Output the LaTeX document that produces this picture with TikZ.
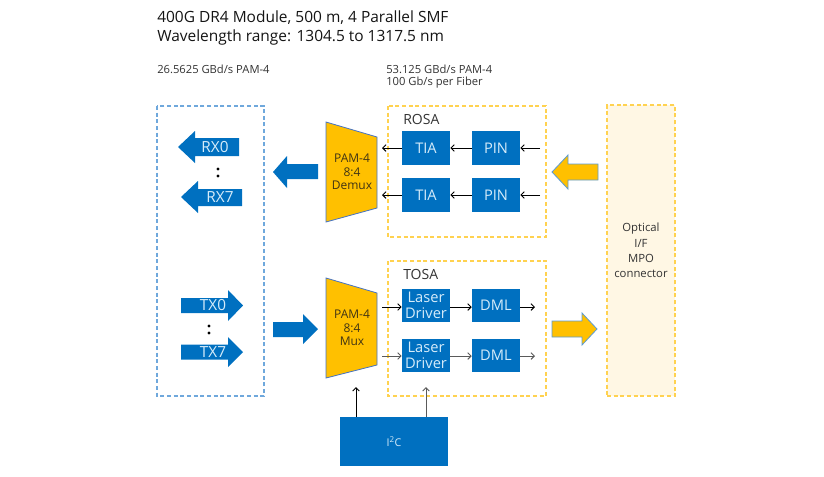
\documentclass[tikz,border=0pt]{standalone}
\usepackage{fontspec}
\setmainfont{Open Sans}
\usetikzlibrary{arrows.meta}

\begin{document}
\begin{tikzpicture}[x=0.75pt,y=0.75pt,yscale=-1,xscale=1,
    blk/.style={fill={rgb,255:red,0;green,112;blue,192}, text={rgb,255:red,214;green,236;blue,250}, minimum width=36pt, minimum height=25.5pt, inner sep=0pt, align=center, font=\fontsize{11}{12}\selectfont},
    barrow/.style={fill={rgb,255:red,0;green,112;blue,192}},
    yarrow/.style={fill={rgb,255:red,255;green,192;blue,0}, draw={rgb,255:red,91;green,155;blue,213}, line width=0.6pt},
    pamfill/.style={fill={rgb,255:red,255;green,192;blue,0}, draw={rgb,255:red,68;green,114;blue,196}, line width=0.6pt},
    pamtext/.style={text={rgb,255:red,64;green,52;blue,20}, align=center, inner sep=0pt, font=\fontsize{9}{10}\selectfont},
    armlabel/.style={text={rgb,255:red,214;green,236;blue,250}, inner sep=0pt, font=\fontsize{11.5}{12}\selectfont},
    hostline/.style={draw={rgb,255:red,111;green,168;blue,220}, line width=1pt, dash pattern=on 3pt off 2pt},
    osaline/.style={draw={rgb,255:red,255;green,210;blue,80}, line width=1pt, dash pattern=on 3pt off 2pt},
    conn/.style={-{Straight Barb[length=2.5pt,width=5pt]}, line width=0.75pt},
    conng/.style={conn, draw={rgb,255:red,90;green,90;blue,90}},
    note/.style={anchor=base west, inner sep=0pt, text={rgb,255:red,51;green,51;blue,51}, font=\fontsize{8.4}{9}\selectfont},
    headline/.style={anchor=base west, inner sep=0pt, text={rgb,255:red,20;green,20;blue,20}, font=\fontsize{11.6}{13}\selectfont}
    ]
    \useasboundingbox (0,0) rectangle (824,476);

    % Text Node
    \node [headline] (title1) at (157,22) {400G DR4 Module, 500 m, 4 Parallel SMF};
    % Text Node
    \node [headline] (title2) at (157,41) {Wavelength range: 1304.5 to 1317.5 nm};
    % Text Node
    \node [note] (hostrate) at (157,73) {26.5625 GBd/s PAM-4};
    % Text Node
    \node [note] (linerate) at (386,73) {53.125 GBd/s PAM-4};
    % Text Node
    \node [note] (fiberrate) at (386,85) {100 Gb/s per Fiber};

    %Shape: Rectangle -- host side
    \draw [hostline] (157,106) rectangle (264,396);
    %Shape: Rectangle -- ROSA
    \draw [osaline] (388,106) rectangle (546,237);
    %Shape: Rectangle -- TOSA
    \draw [osaline] (388,261) rectangle (546,396);
    % Text Node
    \node [anchor=base west, inner sep=0pt, font=\fontsize{10.5}{12}\selectfont, text={rgb,255:red,51;green,51;blue,51}] (rosa) at (403,124) {ROSA};
    % Text Node
    \node [anchor=base west, inner sep=0pt, font=\fontsize{10.5}{12}\selectfont, text={rgb,255:red,51;green,51;blue,51}] (tosa) at (403,279) {TOSA};

    %Shape: Optical connector
    \node [osaline, fill={rgb,255:red,255;green,247;blue,228}, minimum width=51pt, minimum height=218.25pt, inner sep=0pt, align=center, text={rgb,255:red,51;green,51;blue,51}, font=\fontsize{8.5}{11.5}\selectfont] (mpo) at (641,250.5) {Optical\\I/F\\MPO\\connector};

    %Shape: Blocks
    \node [blk] (tia1) at (426,148) {TIA};
    \node [blk] (tia2) at (426,195) {TIA};
    \node [blk] (pin1) at (496,148) {PIN};
    \node [blk] (pin2) at (496,195) {PIN};
    \node [blk, minimum height=24.75pt] (ld1) at (426,305.5) {Laser\\Driver};
    \node [blk, minimum height=24.75pt] (ld2) at (426,355) {Laser\\Driver};
    \node [blk, minimum height=24.75pt] (dml1) at (496,305.5) {DML};
    \node [blk, minimum height=24.75pt] (dml2) at (496,355) {DML};
    \node [blk, minimum width=81pt, minimum height=36.75pt, font=\fontsize{8}{9}\selectfont] (i2c) at (394,441.5) {I\textsuperscript{2}C};

    %Shape: Demux / Mux
    \draw [pamfill] (326,122) -- (377,137) -- (377,208) -- (326,222) -- cycle;
    \node [pamtext] (demux) at (352,172) {PAM-4\\8:4\\Demux};
    \draw [pamfill] (326,278) -- (377,293) -- (377,365) -- (326,378) -- cycle;
    \node [pamtext] (mux) at (352,328) {PAM-4\\8:4\\Mux};

    %Block Arrows -- host lanes
    \fill [barrow] (239,138) -- (195,138) -- (195,131) -- (178,147) -- (195,163) -- (195,156) -- (239,156) -- cycle;
    \node [armlabel] (rx0) at (215,147) {RX0};
    \fill [barrow] (242,189) -- (198,189) -- (198,181) -- (181,197) -- (198,213) -- (198,206) -- (242,206) -- cycle;
    \node [armlabel] (rx7) at (220,197.5) {RX7};
    \fill [barrow] (181,298) -- (228,298) -- (228,290) -- (243,305.5) -- (228,321) -- (228,313) -- (181,313) -- cycle;
    \node [armlabel] (tx0) at (213,305.5) {TX0};
    \fill [barrow] (181,344.5) -- (228,344.5) -- (228,337) -- (243,352) -- (228,367) -- (228,359.5) -- (181,359.5) -- cycle;
    \node [armlabel] (tx7) at (213,352) {TX7};
    \fill (218,169) circle (1.3pt);
    \fill (218,176) circle (1.3pt);
    \fill (209,326) circle (1.3pt);
    \fill (209,333) circle (1.3pt);

    %Block Arrows -- between stages
    \fill [barrow] (318,164) -- (287,164) -- (287,156) -- (273,172) -- (287,188) -- (287,179) -- (318,179) -- cycle;
    \fill [barrow] (273,322) -- (303,322) -- (303,314) -- (318,329) -- (303,344) -- (303,337) -- (273,337) -- cycle;
    \draw [yarrow] (598,164) -- (568,164) -- (568,155) -- (552,172) -- (568,189) -- (568,180) -- (598,180) -- cycle;
    \draw [yarrow] (552,321) -- (582,321) -- (582,313) -- (597,329) -- (582,345) -- (582,337) -- (552,337) -- cycle;

    % Connector ends
    \coordinate (rin1) at (540,148);
    \coordinate (rin2) at (540,195);
    \coordinate (rout1) at (382,148);
    \coordinate (rout2) at (382,195);
    \coordinate (tin1) at (382,307);
    \coordinate (tin2) at (382,356);
    \coordinate (tout1) at (535,307);
    \coordinate (tout2) at (535,356);
    \coordinate (ctl1) at (356,387);
    \coordinate (ctl2) at (426,387);

    %Straight Lines
    \draw [conn] (rin1) -- (pin1.east);
    \draw [conn] (rin2) -- (pin2.east);
    \draw [conn] (pin1) -- (tia1);
    \draw [conn] (pin2) -- (tia2);
    \draw [conn] (tia1.west) -- (rout1);
    \draw [conn] (tia2.west) -- (rout2);
    \draw [conn] (tin1) -- (ld1.west |- tin1);
    \draw [conng] (tin2) -- (ld2.west |- tin2);
    \draw [conn] (ld1.east |- tin1) -- (dml1.west |- tin1);
    \draw [conng] (ld2.east |- tin2) -- (dml2.west |- tin2);
    \draw [conn] (dml1.east |- tout1) -- (tout1);
    \draw [conng] (dml2.east |- tout2) -- (tout2);
    \draw [conn] (i2c.north -| ctl1) -- (ctl1);
    \draw [conng] (i2c.north -| ctl2) -- (ctl2);

\end{tikzpicture}
\end{document}
